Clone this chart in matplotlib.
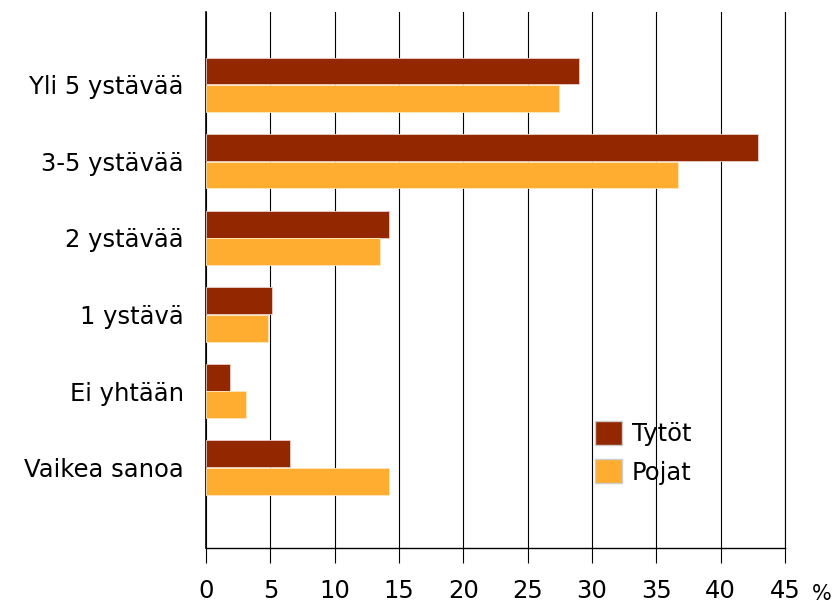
import matplotlib
matplotlib.use("Agg")
import matplotlib.pyplot as plt
import numpy as np

categories = ["Yli 5 ystävää", "3-5 ystävää", "2 ystävää", "1 ystävä", "Ei yhtään", "Vaikea sanoa"]
tytot = [29.0, 42.9, 14.2, 5.1, 1.9, 6.5]
pojat = [27.4, 36.7, 13.5, 4.8, 3.1, 14.2]
series_names = ["Tytöt", "Pojat"]
xticks = [0, 5, 10, 15, 20, 25, 30, 35, 40, 45]

c_dark = "#922700"
c_orange = "#FFAD30"

plt.rcParams['font.family'] = ['DejaVu Sans']
fig = plt.figure(figsize=(8.39, 6.03), dpi=100)
ax = fig.add_axes([206/839, 55/603, 579/839, 536/603])

y = np.arange(len(categories))
h = 0.35
ax.barh(y - 0.18, tytot, height=h, color=c_dark, edgecolor="#e8d0c8", linewidth=0.6, label=series_names[0], zorder=3)
ax.barh(y + 0.18, pojat, height=h, color=c_orange, edgecolor="#ffe8c0", linewidth=0.6, label=series_names[1], zorder=3)

ax.set_xlim(0, 45)
ax.set_ylim(6.05, -0.95)
ax.set_xticks(xticks)
ax.set_xticklabels([str(v) for v in xticks], fontsize=17.5)
ax.set_yticks(y)
ax.set_yticklabels(categories, fontsize=17.5)
ax.tick_params(axis='y', length=0, pad=16)
ax.tick_params(axis='x', length=11, width=0.8, direction='out', pad=11, color='black')
ax.xaxis.grid(True, color='black', linewidth=0.8, zorder=0)
ax.set_axisbelow(True)
ax.spines['top'].set_visible(False)
ax.spines['right'].set_linewidth(0.8)
ax.spines['left'].set_linewidth(1.2)
ax.spines['bottom'].set_linewidth(1.0)

fig.text(822/839, 1 - 594/603, "%", fontsize=15, ha='center', va='center')

leg = ax.legend(loc='upper left', bbox_to_anchor=(389/579, (548-421)/536), frameon=False,
                fontsize=17.5, handlelength=1.12, handleheight=1.12, handletextpad=0.4,
                labelspacing=0.55, borderpad=0, borderaxespad=0)
for p in leg.get_patches():
    p.set_edgecolor('#cccccc')
    p.set_linewidth(1.0)

fig.savefig("out.png", dpi=100)
